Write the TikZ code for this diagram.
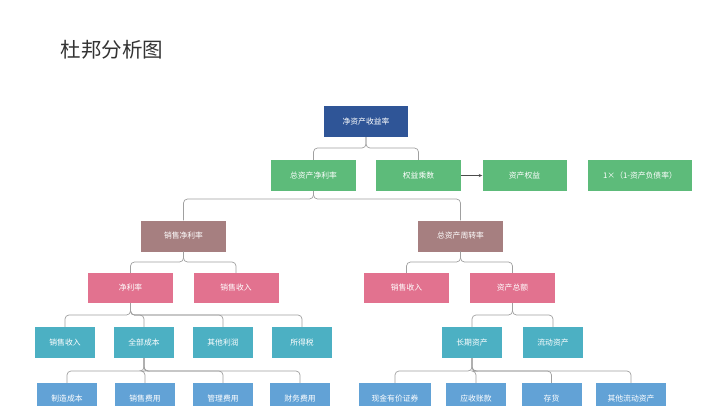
\documentclass[tikz,border=0pt]{standalone}
\usepackage{fontspec}
\setmainfont{Noto Sans CJK SC}
\usetikzlibrary{arrows.meta}
\definecolor{cTop}{HTML}{2F5597}
\definecolor{cGreen}{HTML}{5DBB7A}
\definecolor{cMauve}{HTML}{A67F80}
\definecolor{cPink}{HTML}{E2728F}
\definecolor{cTeal}{HTML}{4CB0C3}
\definecolor{cBlue}{HTML}{62A2D6}
\definecolor{cLine}{HTML}{A0A0A0}
\tikzset{
  box/.style={inner sep=0pt, text=white, font=\fontsize{7.8}{9}\selectfont, minimum height=31pt},
  wbig/.style={minimum width=85pt},
  wsmall/.style={minimum width=60pt},
  conn/.style={draw=cLine, line width=0.7pt, rounded corners=4pt},
}
\begin{document}
\begin{tikzpicture}[x=1pt,y=-1pt]
\useasboundingbox (0,0) rectangle (720,405);
\fill[white] (0,0) rectangle (720,405);
\node[anchor=west, text=black!80, font=\fontsize{20.5}{24}\selectfont] (title) at (57,50) {杜邦分析图};

% level 1
\node[box, wbig, fill=cTop, minimum width=84pt] (roe) at (366,121.5) {净资产收益率};
% level 2
\node[box, wbig, fill=cGreen] (zzc) at (313.5,175.5) {总资产净利率};
\node[box, wbig, fill=cGreen] (qy) at (418.5,175.5) {权益乘数};
\node[box, wbig, fill=cGreen, minimum width=84pt] (zcqy) at (524.5,175.5) {资产权益};
\node[box, fill=cGreen, minimum width=104pt] (fz) at (640,175.5) {1×（1-资产负债率）};
% level 3
\node[box, wbig, fill=cMauve] (xsjl) at (183.5,236) {销售净利率};
\node[box, wbig, fill=cMauve] (zzzl) at (460.5,236) {总资产周转率};
% level 4
\node[box, wbig, fill=cPink, minimum height=30pt] (jll) at (130.5,288) {净利率};
\node[box, wbig, fill=cPink, minimum height=30pt] (xssr1) at (236,288) {销售收入};
\node[box, wbig, fill=cPink, minimum height=30pt] (xssr2) at (406.5,288) {销售收入};
\node[box, wbig, fill=cPink, minimum height=30pt] (zcze) at (512.5,288) {资产总额};
% level 5
\node[box, wsmall, fill=cTeal] (xssr3) at (65,342.5) {销售收入};
\node[box, wsmall, fill=cTeal] (qbcb) at (144,342.5) {全部成本};
\node[box, wsmall, fill=cTeal] (qtlr) at (223,342.5) {其他利润};
\node[box, wsmall, fill=cTeal] (sds) at (302,342.5) {所得税};
\node[box, wsmall, fill=cTeal] (cqzc) at (472,342.5) {长期资产};
\node[box, wsmall, fill=cTeal] (ldzc) at (553,342.5) {流动资产};
% level 6
\node[box, wsmall, fill=cBlue] (zzcb) at (67,398.5) {制造成本};
\node[box, wsmall, fill=cBlue] (xsfy) at (145,398.5) {销售费用};
\node[box, wsmall, fill=cBlue] (glfy) at (223,398.5) {管理费用};
\node[box, wsmall, fill=cBlue] (cwfy) at (300,398.5) {财务费用};
\node[box, fill=cBlue, minimum width=72pt] (xj) at (395,398.5) {现金有价证券};
\node[box, wsmall, fill=cBlue] (yszk) at (476,398.5) {应收账款};
\node[box, wsmall, fill=cBlue] (ch) at (551.5,398.5) {存货};
\node[box, fill=cBlue, minimum width=70pt] (qtld) at (631,398.5) {其他流动资产};

% junction coordinates
\coordinate (j1) at (366,148);
\coordinate (j2) at (313.5,199);
\coordinate (j3) at (183.5,262);
\coordinate (j4) at (460.5,262);
\coordinate (j5) at (130.5,315);
\coordinate (j6) at (512.5,315);
\coordinate (j7) at (144,371);
\coordinate (j8) at (472,371);

% connectors
\foreach \c in {zzc,qy} \draw[conn] (\c.north) |- (j1) -- (roe.south);
\foreach \c in {xsjl,zzzl} \draw[conn] (\c.north) |- (j2) -- (zzc.south);
\foreach \c in {jll,xssr1} \draw[conn] (\c.north) |- (j3) -- (xsjl.south);
\foreach \c in {xssr2,zcze} \draw[conn] (\c.north) |- (j4) -- (zzzl.south);
\foreach \c in {xssr3,qbcb,qtlr,sds} \draw[conn] (\c.north) |- (j5) -- (jll.south);
\foreach \c in {cqzc,ldzc} \draw[conn] (\c.north) |- (j6) -- (zcze.south);
\foreach \c in {zzcb,xsfy,glfy,cwfy} \draw[conn] (\c.north) |- (j7) -- (qbcb.south);
\foreach \c in {xj,yszk,ch,qtld} \draw[conn] (\c.north) |- (j8) -- (cqzc.south);
\draw[draw=black!70, line width=0.6pt, -{Stealth[length=3.5pt,width=3pt]}] (qy.east) -- (zcqy.west);
\end{tikzpicture}
\end{document}
